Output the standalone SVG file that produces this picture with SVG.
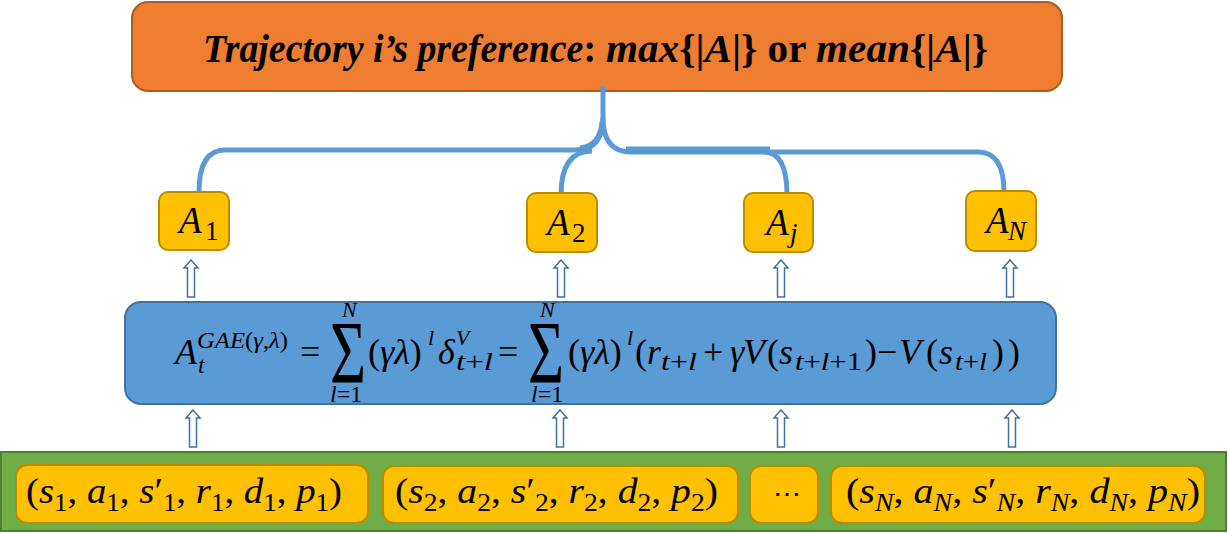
<svg xmlns="http://www.w3.org/2000/svg" width="1228" height="533" viewBox="0 0 1228 533">
<defs>
<style>
text{font-family:"Liberation Serif","Times New Roman",serif;fill:#000}
.i{font-style:italic}
.ybox{fill:#FFC000;stroke:#BC8C00;stroke-width:2}
.conn{fill:none;stroke:#5B9BD5;stroke-width:5;stroke-linecap:butt}
.arr{fill:#fff;stroke:#41719C;stroke-width:1.5}
</style>
</defs>
<rect width="1228" height="533" fill="#fff"/>

<g id="top">
<rect x="132" y="2" width="930" height="89" rx="16" fill="#ED7D31" stroke="#AE5A21" stroke-width="2"/>
<text font-family="Liberation Serif, serif" x="203" y="62" font-size="40" font-weight="bold" textLength="393" lengthAdjust="spacingAndGlyphs"><tspan class="i">Trajectory i’s preference</tspan>:</text>
<text font-family="Liberation Serif, serif" x="606" y="62" font-size="40" font-weight="bold" textLength="382" lengthAdjust="spacingAndGlyphs"><tspan class="i">max</tspan>{|<tspan class="i">A</tspan>|} or <tspan class="i">mean</tspan>{|<tspan class="i">A</tspan>|}</text>
</g>

<g id="connectors">
<path class="conn" d="M603,86 V118 Q603,150 575,150 H225 Q199,150 199,192"/>
<path class="conn" d="M603,118 Q603,152 631,152 H978 Q1004,152 1004,192"/>
<path class="conn" d="M592,151 Q561,151 561,195"/>
<path class="conn" d="M764,152 Q787,152 787,195"/>
<path class="conn" stroke-width="3" d="M580,148 Q600,146 602,122 M626,149 H770"/>
</g>

<g id="arrows">
<path class="arr" d="M191,260 L198,268 L194.5,268 L194.5,297 L187.5,297 L187.5,268 L184,268 Z"/>
<path class="arr" d="M561,260 L568,268 L564.5,268 L564.5,297 L557.5,297 L557.5,268 L554,268 Z"/>
<path class="arr" d="M781,260 L788,268 L784.5,268 L784.5,297 L777.5,297 L777.5,268 L774,268 Z"/>
<path class="arr" d="M1010,260 L1017,268 L1013.5,268 L1013.5,297 L1006.5,297 L1006.5,268 L1003,268 Z"/>
<path class="arr" d="M193,410 L200,418 L196.5,418 L196.5,447 L189.5,447 L189.5,418 L186,418 Z"/>
<path class="arr" d="M560,410 L567,418 L563.5,418 L563.5,447 L556.5,447 L556.5,418 L553,418 Z"/>
<path class="arr" d="M781,410 L788,418 L784.5,418 L784.5,447 L777.5,447 L777.5,418 L774,418 Z"/>
<path class="arr" d="M1012,410 L1019,418 L1015.5,418 L1015.5,447 L1008.5,447 L1008.5,418 L1005,418 Z"/>
</g>

<g id="a1">
<rect class="ybox" x="159" y="192" width="70" height="58" rx="9"/>
<text font-family="Liberation Serif, serif" x="179" y="233" font-size="37" class="i">A</text>
<text font-family="Liberation Serif, serif" x="205" y="240" font-size="27">1</text>
</g>
<g id="a2">
<rect class="ybox" x="527" y="193" width="70" height="59" rx="9"/>
<text font-family="Liberation Serif, serif" x="547" y="235" font-size="37" class="i">A</text>
<text font-family="Liberation Serif, serif" x="572" y="242" font-size="27">2</text>
</g>
<g id="aj">
<rect class="ybox" x="744" y="193" width="69" height="59" rx="9"/>
<text font-family="Liberation Serif, serif" x="766" y="235" font-size="37" class="i">A</text>
<text font-family="Liberation Serif, serif" x="790" y="242" font-size="27" class="i">j</text>
</g>
<g id="an">
<rect class="ybox" x="966" y="191" width="70" height="60" rx="9"/>
<text font-family="Liberation Serif, serif" x="986" y="233" font-size="37" class="i">A</text>
<text font-family="Liberation Serif, serif" x="1008" y="240" font-size="27" class="i">N</text>
</g>

<g id="gae" font-family="Liberation Serif, serif">
<rect x="125" y="302" width="931" height="102" rx="16" fill="#5B9BD5" stroke="#41719C" stroke-width="2"/>
<g font-size="36">
<text x="175" y="364" class="i">A</text>
<text x="197" y="348" font-size="24" textLength="91" lengthAdjust="spacingAndGlyphs"><tspan class="i">GAE</tspan>(<tspan class="i">γ</tspan>,<tspan class="i">λ</tspan>)</text>
<text x="198" y="373" font-size="24" class="i">t</text>
<text x="300" y="364">=</text>
<text transform="translate(330,382) scale(1,1.43)" font-size="62">Σ</text>
<text x="342" y="317" font-size="22" class="i">N</text>
<text x="330" y="402" font-size="24"><tspan class="i">l</tspan>=1</text>
<text x="368" y="364">(<tspan class="i">γλ</tspan>)</text>
<text x="428" y="345" font-size="22" class="i">l</text>
<text x="438" y="364" class="i">δ</text>
<text x="456" y="345" font-size="22" class="i">V</text>
<text x="456" y="370" font-size="25" textLength="37" lengthAdjust="spacingAndGlyphs"><tspan class="i">t</tspan>+<tspan class="i">l</tspan></text>
<text x="498" y="364">=</text>
<text transform="translate(528,382) scale(1,1.43)" font-size="62">Σ</text>
<text x="540" y="317" font-size="22" class="i">N</text>
<text x="531" y="402" font-size="24"><tspan class="i">l</tspan>=1</text>
<text x="568" y="364">(<tspan class="i">γλ</tspan>)</text>
<text x="627" y="345" font-size="22" class="i">l</text>
<text x="635" y="364">(<tspan class="i">r</tspan></text>
<text x="661" y="370" font-size="25" textLength="36" lengthAdjust="spacingAndGlyphs"><tspan class="i">t</tspan>+<tspan class="i">l</tspan></text>
<text x="703" y="364">+</text>
<text y="364"><tspan x="730" class="i">γ</tspan><tspan x="743" class="i">V</tspan><tspan x="767">(</tspan><tspan x="779" class="i">s</tspan></text>
<text x="795" y="370" font-size="25" textLength="67" lengthAdjust="spacingAndGlyphs"><tspan class="i">t</tspan>+<tspan class="i">l</tspan>+1</text>
<text x="865" y="364">)</text>
<text x="877" y="364">−</text>
<text y="364"><tspan x="899" class="i">V</tspan><tspan x="926">(</tspan><tspan x="939" class="i">s</tspan></text>
<text x="955" y="370" font-size="25" textLength="32" lengthAdjust="spacingAndGlyphs"><tspan class="i">t</tspan>+<tspan class="i">l</tspan></text>
<text x="992" y="364" textLength="28" lengthAdjust="spacing">))</text>
</g>
</g>

<g id="tuples">
<rect x="1" y="452" width="1225" height="79" fill="#70AD47" stroke="#507E32" stroke-width="2"/>
</g>
<g id="t1">
<rect class="ybox" x="16" y="465" width="352" height="58" rx="11"/>
<text font-family="Liberation Serif, serif" x="26" y="503" font-size="36" textLength="316" lengthAdjust="spacingAndGlyphs">(<tspan class="i">s</tspan><tspan font-size="25" dy="8">1</tspan><tspan dy="-8">, </tspan><tspan class="i">a</tspan><tspan font-size="25" dy="8">1</tspan><tspan dy="-8">, </tspan><tspan class="i">s</tspan>′<tspan font-size="25" dy="8">1</tspan><tspan dy="-8">, </tspan><tspan class="i">r</tspan><tspan font-size="25" dy="8">1</tspan><tspan dy="-8">, </tspan><tspan class="i">d</tspan><tspan font-size="25" dy="8">1</tspan><tspan dy="-8">, </tspan><tspan class="i">p</tspan><tspan font-size="25" dy="8">1</tspan><tspan dy="-8">)</tspan></text>
</g>
<g id="t2">
<rect class="ybox" x="383" y="466" width="355" height="57" rx="11"/>
<text font-family="Liberation Serif, serif" x="395" y="503" font-size="36" textLength="323" lengthAdjust="spacingAndGlyphs">(<tspan class="i">s</tspan><tspan font-size="25" dy="8">2</tspan><tspan dy="-8">, </tspan><tspan class="i">a</tspan><tspan font-size="25" dy="8">2</tspan><tspan dy="-8">, </tspan><tspan class="i">s</tspan>′<tspan font-size="25" dy="8">2</tspan><tspan dy="-8">, </tspan><tspan class="i">r</tspan><tspan font-size="25" dy="8">2</tspan><tspan dy="-8">, </tspan><tspan class="i">d</tspan><tspan font-size="25" dy="8">2</tspan><tspan dy="-8">, </tspan><tspan class="i">p</tspan><tspan font-size="25" dy="8">2</tspan><tspan dy="-8">)</tspan></text>
</g>
<g id="tdots">
<rect class="ybox" x="750" y="466" width="68" height="57" rx="11"/>
<text x="787" y="503" text-anchor="middle" font-size="28" font-family="DejaVu Serif, serif">⋯</text>
</g>
<g id="tn">
<rect class="ybox" x="831" y="466" width="374" height="57" rx="11"/>
<text font-family="Liberation Serif, serif" x="846" y="503" font-size="36" textLength="354" lengthAdjust="spacingAndGlyphs">(<tspan class="i">s</tspan><tspan class="i" font-size="25" dy="8">N</tspan><tspan dy="-8">, </tspan><tspan class="i">a</tspan><tspan class="i" font-size="25" dy="8">N</tspan><tspan dy="-8">, </tspan><tspan class="i">s</tspan>′<tspan class="i" font-size="25" dy="8">N</tspan><tspan dy="-8">, </tspan><tspan class="i">r</tspan><tspan class="i" font-size="25" dy="8">N</tspan><tspan dy="-8">, </tspan><tspan class="i">d</tspan><tspan class="i" font-size="25" dy="8">N</tspan><tspan dy="-8">, </tspan><tspan class="i">p</tspan><tspan class="i" font-size="25" dy="8">N</tspan><tspan dy="-8">)</tspan></text>
</g>
</svg>
